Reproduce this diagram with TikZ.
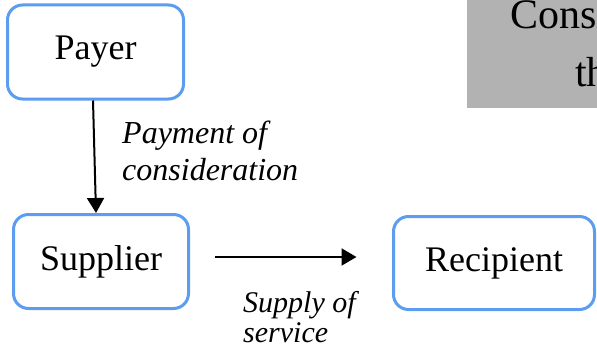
\documentclass[tikz,border=0pt]{standalone}
\usepackage{fontspec}
\setmainfont{Liberation Serif}
\usetikzlibrary{arrows.meta}
\definecolor{boxblue}{RGB}{92,157,240}
\definecolor{panelgray}{RGB}{178,178,178}
\begin{document}
\begin{tikzpicture}[x=1pt,y=-1pt,
  entity/.style={draw=boxblue, line width=3pt, rounded corners=15pt, fill=white,
    font=\fontsize{36}{40}\selectfont, inner sep=0pt},
  lbl/.style={font=\fontsize{#1}{#1}\selectfont\itshape, inner sep=0pt, anchor=base west},
  flow/.style={line width=2pt, -{Triangle[length=15pt,width=17pt]}},
  paneltext/.style={font=\fontsize{42}{46}\selectfont, inner sep=0pt, anchor=base west}]
\useasboundingbox (0,0) rectangle (597,353);
\clip (0,0) rectangle (597,353);
% grey panel (cut off at the right edge)
\fill[panelgray] (467,-5) rectangle (640,108);
\node[paneltext] (cons) at (510,29) {Consideration};
\node[paneltext] (third) at (575,86) {third party};
% entities
\node[entity, minimum width=176pt, minimum height=94pt] (payer) at (95.5,52) {Payer};
\node[entity, minimum width=175pt, minimum height=94pt] (supplier) at (101,261.5) {Supplier};
\node[entity, minimum width=201pt, minimum height=93pt] (recipient) at (494,263) {Recipient};
% connectors
\draw[flow] ([xshift=-2.5pt]payer.south) -- ([xshift=-5pt]supplier.north);
\coordinate (s0) at ([xshift=24.5pt,yshift=4.5pt]supplier.east);
\coordinate (s1) at ([xshift=-35.5pt,yshift=4.5pt]supplier.east -| recipient.west);
\draw[flow] (s0) -- (s1);
% labels
\node[lbl=32] (pay1) at (122,143) {Payment of};
\node[lbl=32] (pay2) at (122,180) {consideration};
\node[lbl=30] (sup1) at (243,312) {Supply of};
\node[lbl=30] (sup2) at (243,342) {service};
\end{tikzpicture}
\end{document}
